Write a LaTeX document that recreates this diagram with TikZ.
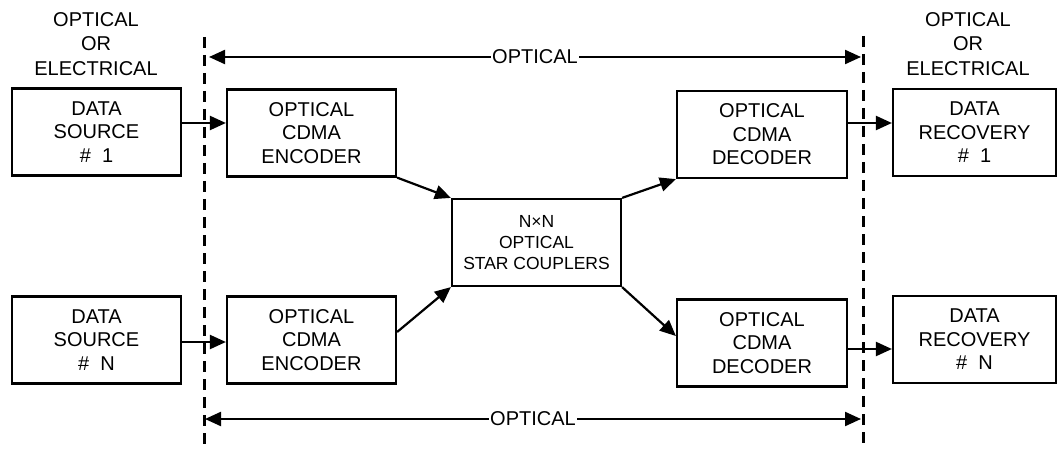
\documentclass[tikz,border=0pt]{standalone}
\usepackage{fontspec}
\setmainfont{Liberation Sans}
\usetikzlibrary{arrows.meta,calc}
\begin{document}
\begin{tikzpicture}[x=1pt,y=-1pt,
  >={Triangle[length=16pt,width=14pt]},
  blk/.style={draw,line width=2.2pt,inner sep=0pt,align=center,
    minimum width=169pt,minimum height=87pt,
    font=\fontsize{20}{23.5}\selectfont},
  hub/.style={blk,font=\fontsize{17.5}{21}\selectfont},
  lbl/.style={align=center,inner sep=0pt,font=\fontsize{20}{24.5}\selectfont},
  divider/.style={line width=3pt,dash pattern=on 11pt off 7pt},
  link/.style={->,line width=2.2pt},
  span/.style={<->,line width=2.2pt},
  spanlbl/.style={fill=white,inner sep=0.8pt,font=\fontsize{20}{24}\selectfont}
]
\useasboundingbox (0,0) rectangle (1057,449);

% domain boundaries
\coordinate (dl1) at (204,37);
\coordinate (dl2) at (204,449);
\coordinate (dr1) at (863,36);
\coordinate (dr2) at (863,449);
\draw[divider] (dl1) -- (dl2);
\draw[divider] (dr1) -- (dr2);

% side labels
\node[lbl] (lefttag)  at (96,44)  {OPTICAL\\OR\\ELECTRICAL};
\node[lbl] (righttag) at (968,44) {OPTICAL\\OR\\ELECTRICAL};

% blocks
\node[blk] (src1) at (96.5,132)  {DATA\\SOURCE\\\#~~1};
\node[blk] (srcN) at (96.5,340)  {DATA\\SOURCE\\\#~~N};
\node[blk] (enc1) at (311.5,133) {OPTICAL\\CDMA\\ENCODER};
\node[blk] (encN) at (311.5,340) {OPTICAL\\CDMA\\ENCODER};
\node[hub] (star) at (536.5,242.5) {N×N\\OPTICAL\\STAR COUPLERS};
\node[blk,minimum width=170pt] (dec1) at (762,134.5) {OPTICAL\\CDMA\\DECODER};
\node[blk,minimum width=170pt] (decN) at (762,343)   {OPTICAL\\CDMA\\DECODER};
\node[blk,minimum width=163pt] (rec1) at (974.5,132.5) {DATA\\RECOVERY\\\#~~1};
\node[blk,minimum width=163pt] (recN) at (974.5,339.5) {DATA\\RECOVERY\\\#~~N};

% signal rows
\coordinate (rowA)  at (0,123);
\coordinate (rowB)  at (0,342);
\coordinate (rowC)  at (0,349);

\draw[link] (src1.east |- rowA) -- (enc1.west |- rowA);
\draw[link] (srcN.east |- rowB) -- (encN.west |- rowB);
\draw[link] (dec1.east |- rowA) -- (rec1.west |- rowA);
\draw[link] (decN.east |- rowC) -- (recN.west |- rowC);

% into and out of the star coupler
\draw[link] (enc1.south east) -- (star.north west);
\draw[link] ($(encN.east)+(0,-8)$) -- (star.south west);
\draw[link] (star.north east) -- (dec1.south west);
\draw[link] (star.south east) -- ($(decN.west)+(0,-7)$);

% optical span markers
\coordinate (tl) at (209,57);
\coordinate (tr) at (861,57);
\coordinate (bl) at (205,419);
\coordinate (br) at (861,419);
\draw[span] (tl) -- (tr) node[spanlbl,pos=0.5] (toptag) {OPTICAL};
\draw[span] (bl) -- (br) node[spanlbl,pos=0.5] (bottag) {OPTICAL};
\end{tikzpicture}
\end{document}
